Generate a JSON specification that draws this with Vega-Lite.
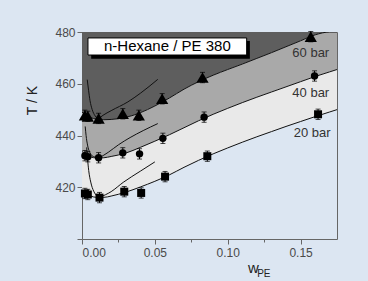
{
  "$schema": "https://vega.github.io/schema/vega-lite/v6.json",
  "width": 255,
  "height": 207,
  "autosize": {"type": "none"},
  "padding": {"left": 82, "top": 32, "right": 31, "bottom": 42},
  "background": "#dce6f2",
  "config": {
    "font": "Liberation Sans",
    "view": {"stroke": "#666666", "strokeWidth": 1},
    "axis": {"grid": false, "domain": false, "tickColor": "#666666", "labelColor": "#4a4a4a", "labelFontSize": 12, "labelFont": "Liberation Sans", "titleFont": "Liberation Sans", "titleColor": "#222222", "titleFontWeight": "normal"}
  },
  "datasets": {
    "curves": [
      {"w": 0.000, "t20": 418.8, "t40": 433.8, "t60": 449.0},
      {"w": 0.003, "t20": 417.4, "t40": 432.4, "t60": 447.8},
      {"w": 0.006, "t20": 416.6, "t40": 431.7, "t60": 446.9},
      {"w": 0.010, "t20": 416.1, "t40": 431.3, "t60": 446.3},
      {"w": 0.015, "t20": 416.1, "t40": 431.4, "t60": 446.1},
      {"w": 0.020, "t20": 416.6, "t40": 431.9, "t60": 446.2},
      {"w": 0.030, "t20": 418.1, "t40": 433.2, "t60": 447.0},
      {"w": 0.040, "t20": 420.1, "t40": 435.4, "t60": 448.8},
      {"w": 0.050, "t20": 422.3, "t40": 437.8, "t60": 451.4},
      {"w": 0.060, "t20": 424.8, "t40": 440.3, "t60": 454.5},
      {"w": 0.070, "t20": 427.7, "t40": 443.0, "t60": 457.9},
      {"w": 0.080, "t20": 430.4, "t40": 445.7, "t60": 460.8},
      {"w": 0.090, "t20": 432.9, "t40": 448.2, "t60": 463.3},
      {"w": 0.100, "t20": 435.2, "t40": 450.5, "t60": 465.5},
      {"w": 0.110, "t20": 437.4, "t40": 452.7, "t60": 467.6},
      {"w": 0.120, "t20": 439.5, "t40": 454.8, "t60": 469.8},
      {"w": 0.130, "t20": 441.5, "t40": 456.8, "t60": 472.0},
      {"w": 0.140, "t20": 443.5, "t40": 458.8, "t60": 474.3},
      {"w": 0.150, "t20": 445.4, "t40": 460.8, "t60": 476.6},
      {"w": 0.160, "t20": 447.3, "t40": 462.8, "t60": 478.9},
      {"w": 0.170, "t20": 449.1, "t40": 464.6, "t60": 480.0},
      {"w": 0.175, "t20": 450.0, "t40": 465.5, "t60": 480.0}
    ],
    "extra": [
      {"curve": "s60", "w": 0.0036, "T": 461.6},
      {"curve": "s60", "w": 0.0045, "T": 457.5},
      {"curve": "s60", "w": 0.0055, "T": 453.5},
      {"curve": "s60", "w": 0.007, "T": 450.0},
      {"curve": "s60", "w": 0.009, "T": 447.6},
      {"curve": "s60", "w": 0.012, "T": 446.3},
      {"curve": "s40", "w": 0.0022, "T": 443.5},
      {"curve": "s40", "w": 0.0028, "T": 440.0},
      {"curve": "s40", "w": 0.0038, "T": 436.3},
      {"curve": "s40", "w": 0.0055, "T": 433.3},
      {"curve": "s40", "w": 0.008, "T": 431.8},
      {"curve": "s40", "w": 0.012, "T": 431.3},
      {"curve": "s20", "w": 0.0032, "T": 435.4},
      {"curve": "s20", "w": 0.0038, "T": 431.0},
      {"curve": "s20", "w": 0.0046, "T": 426.5},
      {"curve": "s20", "w": 0.006, "T": 422.0},
      {"curve": "s20", "w": 0.008, "T": 418.5},
      {"curve": "s20", "w": 0.011, "T": 416.5},
      {"curve": "s20", "w": 0.014, "T": 416.1},
      {"curve": "i60", "w": 0.011, "T": 446.3},
      {"curve": "i60", "w": 0.0144, "T": 447.8},
      {"curve": "i60", "w": 0.02, "T": 449.6},
      {"curve": "i60", "w": 0.0315, "T": 453.0},
      {"curve": "i60", "w": 0.04, "T": 456.3},
      {"curve": "i60", "w": 0.052, "T": 461.7},
      {"curve": "i40", "w": 0.012, "T": 431.4},
      {"curve": "i40", "w": 0.018, "T": 433.5},
      {"curve": "i40", "w": 0.025, "T": 436.4},
      {"curve": "i40", "w": 0.033, "T": 439.2},
      {"curve": "i40", "w": 0.042, "T": 441.9},
      {"curve": "i40", "w": 0.052, "T": 444.6},
      {"curve": "i20", "w": 0.012, "T": 416.1},
      {"curve": "i20", "w": 0.02, "T": 418.3},
      {"curve": "i20", "w": 0.0283, "T": 421.9},
      {"curve": "i20", "w": 0.04, "T": 426.2},
      {"curve": "i20", "w": 0.05, "T": 429.8}
    ],
    "points": [
      {"p": "60 bar", "w": 0.002, "T": 447.8, "err": 2},
      {"p": "60 bar", "w": 0.004, "T": 447.4, "err": 2},
      {"p": "60 bar", "w": 0.0114, "T": 446.6, "err": 2},
      {"p": "60 bar", "w": 0.028, "T": 448.4, "err": 2},
      {"p": "60 bar", "w": 0.039, "T": 447.8, "err": 2},
      {"p": "60 bar", "w": 0.055, "T": 454.2, "err": 2},
      {"p": "60 bar", "w": 0.0827, "T": 462.4, "err": 2},
      {"p": "60 bar", "w": 0.157, "T": 478.2, "err": 2},
      {"p": "40 bar", "w": 0.002, "T": 432.2, "err": 2},
      {"p": "40 bar", "w": 0.004, "T": 431.8, "err": 2},
      {"p": "40 bar", "w": 0.0114, "T": 431.4, "err": 2},
      {"p": "40 bar", "w": 0.028, "T": 433.3, "err": 2},
      {"p": "40 bar", "w": 0.0395, "T": 432.9, "err": 2},
      {"p": "40 bar", "w": 0.0555, "T": 438.9, "err": 2},
      {"p": "40 bar", "w": 0.0838, "T": 447.1, "err": 2},
      {"p": "40 bar", "w": 0.1596, "T": 463.0, "err": 2},
      {"p": "20 bar", "w": 0.002, "T": 417.6, "err": 2},
      {"p": "20 bar", "w": 0.004, "T": 417.2, "err": 2},
      {"p": "20 bar", "w": 0.012, "T": 416.0, "err": 2},
      {"p": "20 bar", "w": 0.029, "T": 418.3, "err": 2},
      {"p": "20 bar", "w": 0.0406, "T": 417.8, "err": 2},
      {"p": "20 bar", "w": 0.057, "T": 424.1, "err": 2},
      {"p": "20 bar", "w": 0.086, "T": 432.0, "err": 2},
      {"p": "20 bar", "w": 0.162, "T": 448.2, "err": 2}
    ],
    "labels": [
      {"label": "60 bar", "w": 0.157, "T": 471.7},
      {"label": "40 bar", "w": 0.157, "T": 456.6},
      {"label": "20 bar", "w": 0.158, "T": 440.9}
    ]
  },
  "layer": [
    {
      "data": {"name": "curves"},
      "mark": {"type": "area", "fill": "#5e5e5e", "interpolate": "monotone", "clip": true},
      "encoding": {
        "x": {"field": "w", "type": "quantitative", "title": "w", "scale": {"domain": [0, 0.175], "nice": false},
          "axis": {"values": [0, 0.025, 0.05, 0.075, 0.1, 0.125, 0.15], "labelExpr": "abs(datum.value*20 - round(datum.value*20)) < 0.000001 ? format(datum.value, '.2f') : ''", "tickSize": {"condition": {"test": "abs(datum.value*20 - round(datum.value*20)) < 0.000001", "value": 5}, "value": 3}, "labelPadding": 3, "titleFontSize": 15, "titleX": 171, "titleY": 33, "titleBaseline": "alphabetic", "titleAlign": "center"}},
        "y": {"field": "t60", "type": "quantitative", "title": "T / K", "scale": {"domain": [400, 480], "nice": false, "zero": false},
          "axis": {"values": [400, 410, 420, 430, 440, 450, 460, 470, 480], "labelExpr": "datum.value % 20 == 0 && datum.value > 400 ? datum.value : ''", "tickSize": {"condition": {"test": "datum.value % 20 == 0", "value": 5}, "value": 3}, "labelPadding": 2, "titleFontSize": 14, "titleX": -50, "titleY": 68, "titleAlign": "center", "titleBaseline": "middle"}},
        "y2": {"datum": 480}
      }
    },
    {
      "data": {"name": "curves"},
      "mark": {"type": "area", "fill": "#a9a9a9", "interpolate": "monotone", "clip": true},
      "encoding": {
        "x": {"field": "w", "type": "quantitative", "title": "w"},
        "y": {"field": "t40", "type": "quantitative", "title": "T / K"},
        "y2": {"field": "t60"}
      }
    },
    {
      "data": {"name": "curves"},
      "mark": {"type": "area", "fill": "#e9e9e9", "interpolate": "monotone", "clip": true},
      "encoding": {
        "x": {"field": "w", "type": "quantitative", "title": "w"},
        "y": {"field": "t20", "type": "quantitative", "title": "T / K"},
        "y2": {"field": "t40"}
      }
    },
    {
      "data": {"name": "curves"},
      "transform": [{"fold": ["t20", "t40", "t60"], "as": ["curve", "T"]}],
      "mark": {"type": "line", "color": "#111111", "strokeWidth": 1, "interpolate": "monotone", "clip": true},
      "encoding": {
        "x": {"field": "w", "type": "quantitative", "title": "w"},
        "y": {"field": "T", "type": "quantitative", "title": "T / K"},
        "detail": {"field": "curve"}
      }
    },
    {
      "data": {"name": "extra"},
      "mark": {"type": "line", "color": "#111111", "strokeWidth": 1, "interpolate": "monotone", "clip": true},
      "encoding": {
        "x": {"field": "w", "type": "quantitative", "title": "w"},
        "y": {"field": "T", "type": "quantitative", "title": "T / K"},
        "detail": {"field": "curve"}
      }
    },
    {
      "data": {"name": "points"},
      "mark": {"type": "errorbar", "ticks": {"size": 5, "color": "#000000"}, "rule": {"color": "#000000", "strokeWidth": 1}},
      "encoding": {
        "x": {"field": "w", "type": "quantitative", "title": "w"},
        "y": {"field": "T", "type": "quantitative", "title": "T / K"},
        "yError": {"field": "err"},
        "detail": {"field": "p"}
      }
    },
    {
      "data": {"name": "points"},
      "mark": {"type": "point", "filled": true, "color": "#000000", "opacity": 1},
      "encoding": {
        "x": {"field": "w", "type": "quantitative", "title": "w"},
        "y": {"field": "T", "type": "quantitative", "title": "T / K"},
        "shape": {"field": "p", "type": "nominal", "scale": {"domain": ["20 bar", "40 bar", "60 bar"], "range": ["square", "circle", "triangle-up"]}, "legend": null},
        "size": {"field": "p", "type": "nominal", "scale": {"type": "ordinal", "domain": ["20 bar", "40 bar", "60 bar"], "range": [64, 55, 150]}, "legend": null}
      }
    },
    {
      "data": {"values": [{}]},
      "mark": {"type": "rect", "fill": "#000000"},
      "encoding": {
        "x": {"datum": 0.0063}, "x2": {"datum": 0.1152},
        "y": {"datum": 476.5}, "y2": {"datum": 469.7}
      }
    },
    {
      "data": {"values": [{}]},
      "mark": {"type": "rect", "fill": "#ffffff", "stroke": "#000000", "strokeWidth": 1},
      "encoding": {
        "x": {"datum": 0.0041}, "x2": {"datum": 0.113},
        "y": {"datum": 477.7}, "y2": {"datum": 471.1}
      }
    },
    {
      "data": {"values": [{"label": "n-Hexane / PE 380", "w": 0.0586, "T": 474.4}]},
      "mark": {"type": "text", "fontSize": 15, "color": "#000000", "align": "center", "baseline": "middle"},
      "encoding": {
        "x": {"field": "w", "type": "quantitative", "title": "w"},
        "y": {"field": "T", "type": "quantitative", "title": "T / K"},
        "text": {"field": "label"}
      }
    },
    {
      "data": {"name": "labels"},
      "mark": {"type": "text", "fontSize": 13, "color": "#333333", "align": "center", "baseline": "middle"},
      "encoding": {
        "x": {"field": "w", "type": "quantitative", "title": "w"},
        "y": {"field": "T", "type": "quantitative", "title": "T / K"},
        "text": {"field": "label"}
      }
    },
    {
      "data": {"values": [{"label": "PE", "w": 0.1248, "T": 385.2}]},
      "mark": {"type": "text", "fontSize": 10, "color": "#222222", "align": "center", "baseline": "alphabetic"},
      "encoding": {
        "x": {"field": "w", "type": "quantitative", "title": "w"},
        "y": {"field": "T", "type": "quantitative", "title": "T / K"},
        "text": {"field": "label"}
      }
    }
  ]
}
